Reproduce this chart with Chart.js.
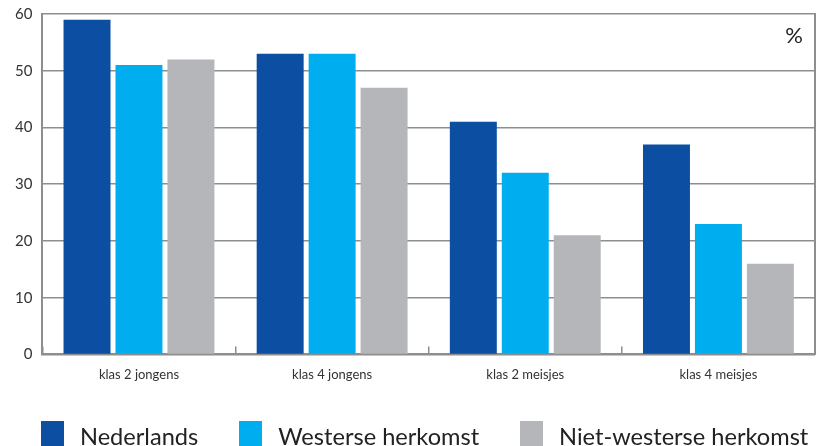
<!DOCTYPE html>
<html>
<head>
<meta charset="utf-8">
<script src="https://cdn.jsdelivr.net/npm/chart.js"></script>
<style>
  html, body { margin: 0; padding: 0; background: #fff; overflow: hidden; }
  #wrap { width: 823px; height: 446px; position: relative; }
  #legend { position: absolute; left: 41px; top: 421px; display: flex; white-space: nowrap; font: 23.6px Lato, sans-serif; color: #222; }
  #legend .item { display: flex; flex-shrink: 0; align-items: center; height: 30px; margin-right: 41px; }
  #legend .box { width: 23px; height: 30px; margin-right: 16px; }
</style>
</head>
<body>
<div id="wrap"><canvas id="chart"></canvas><div id="legend"></div></div>
<script>
const categories = ['klas 2 jongens', 'klas 4 jongens', 'klas 2 meisjes', 'klas 4 meisjes'];
const seriesNames = ['Nederlands', 'Westerse herkomst', 'Niet-westerse herkomst'];
const nederlands = [59, 53, 41, 37];
const westers = [51, 53, 32, 23];
const nietWesters = [52, 47, 21, 16];
const yTicks = [0, 10, 20, 30, 40, 50, 60];

const colors = ['#0b4ea2', '#00aeef', '#b5b6b9'];
const lineColor = '#8e8e8e';

// "%" label in the top right corner of the plot
const percentLabel = {
  id: 'percentLabel',
  afterDraw(chart) {
    const { ctx, chartArea } = chart;
    ctx.save();
    ctx.font = '22px Lato';
    ctx.fillStyle = '#222';
    ctx.textAlign = 'right';
    ctx.textBaseline = 'middle';
    ctx.fillText('%', chartArea.right - 12, chartArea.top + 22);
    ctx.restore();
  }
};

const chart = new Chart(document.getElementById('chart'), {
  type: 'bar',
  data: {
    labels: categories,
    datasets: [nederlands, westers, nietWesters].map((d, i) => ({
      label: seriesNames[i],
      data: d,
      backgroundColor: colors[i],
      borderWidth: 0,
      categoryPercentage: 0.807,
      barPercentage: 0.904
    }))
  },
  options: {
    responsive: true,
    maintainAspectRatio: false,
    animation: false,
    layout: { padding: { top: 14, right: 8, left: 5, bottom: 42 } },
    plugins: {
      tooltip: { enabled: false },
      legend: { display: false }
    },
    scales: {
      x: {
        grid: {
          offset: true,
          drawOnChartArea: false,
          drawTicks: true,
          tickLength: -8,
          color: lineColor,
          lineWidth: 1.5
        },
        border: { color: lineColor, width: 2 },
        ticks: { color: '#333', font: { family: 'Lato', size: 13 }, padding: 21 }
      },
      y: {
        min: 0,
        max: 60,
        afterBuildTicks(axis) { axis.ticks = yTicks.map(v => ({ value: v })); },
        afterFit(axis) { axis.paddingTop = 0; },
        grid: { color: lineColor, lineWidth: 1.5, drawTicks: false },
        border: { color: lineColor, width: 2 },
        ticks: { color: '#333', font: { family: 'Lato', size: 15 }, padding: 10 }
      },
      y2: {
        position: 'right',
        min: 0,
        max: 60,
        grid: { drawOnChartArea: false, drawTicks: false },
        border: { color: lineColor, width: 2 },
        ticks: { display: false }
      }
    }
  },
  plugins: [percentLabel]
});

// legend built from the chart's datasets
const legendEl = document.getElementById('legend');
chart.data.datasets.forEach(ds => {
  const item = document.createElement('div');
  item.className = 'item';
  const box = document.createElement('span');
  box.className = 'box';
  box.style.background = ds.backgroundColor;
  const txt = document.createElement('span');
  txt.textContent = ds.label;
  item.appendChild(box);
  item.appendChild(txt);
  legendEl.appendChild(item);
});
</script>
</body>
</html>
